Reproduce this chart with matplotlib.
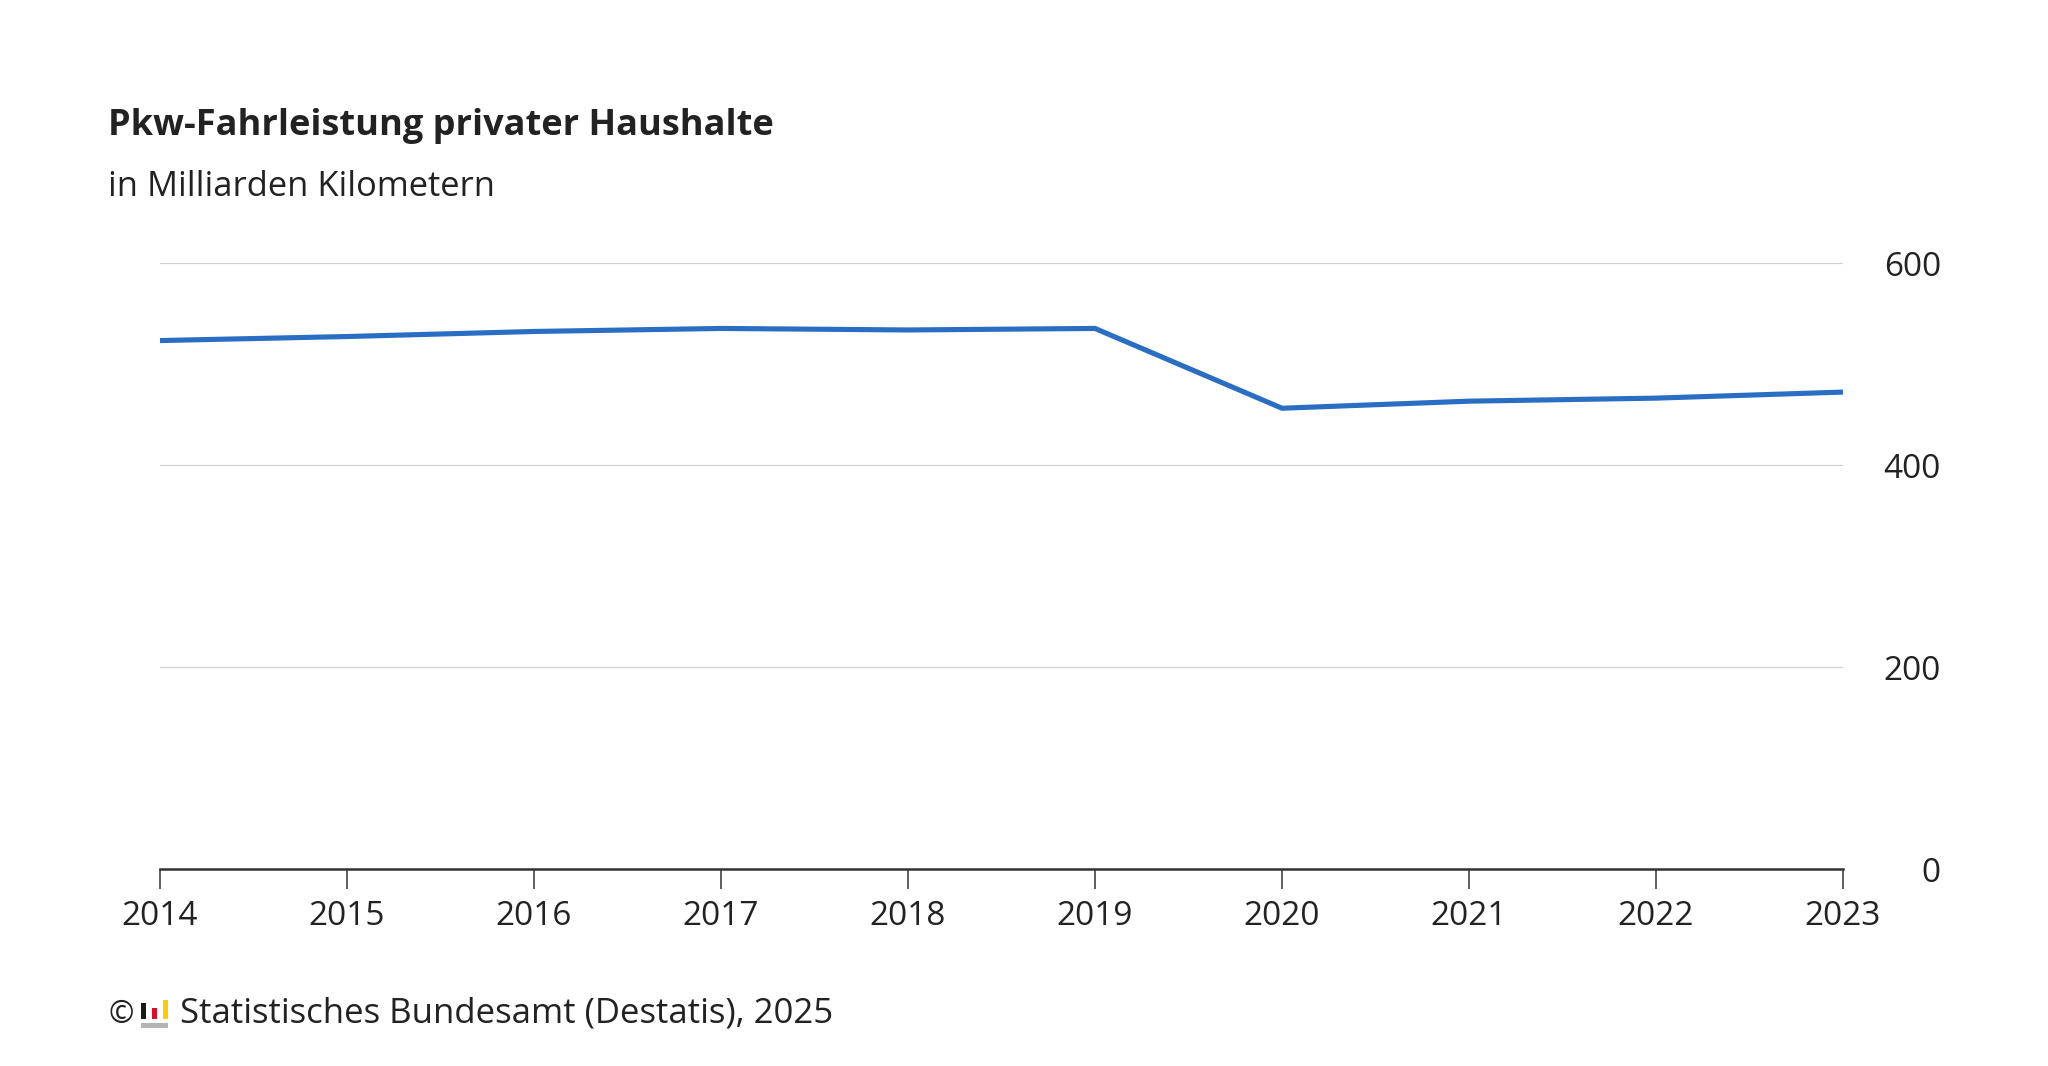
import matplotlib
matplotlib.use("Agg")
import matplotlib.pyplot as plt
from matplotlib.patches import Rectangle

years = [2014, 2015, 2016, 2017, 2018, 2019, 2020, 2021, 2022, 2023]
fahrleistung = [523.5, 527.5, 532.5, 535.5, 534, 535.5, 456.5, 463.5, 466.5, 472.5]
y_ticks = [0, 200, 400, 600]
y_tick_labels = ["0", "200", "400", "600"]

title = "Pkw-Fahrleistung privater Haushalte"
subtitle = "in Milliarden Kilometern"
source = "Statistisches Bundesamt (Destatis), 2025"

W, H = 2048, 1066
DPI = 100
plt.rcParams['font.family'] = ['Open Sans', 'DejaVu Sans']
TXT = '#222222'

fig = plt.figure(figsize=(W / DPI, H / DPI), dpi=DPI, facecolor='white')

left_px, right_px = 160, 1843
top_px, bottom_px = 263.3, 869.3
ax = fig.add_axes([left_px / W, 1 - bottom_px / H,
                   (right_px - left_px) / W, (bottom_px - top_px) / H])

ax.plot(years, fahrleistung, color='#2a6ec3', lw=3.7, solid_capstyle='butt',
        solid_joinstyle='miter', clip_on=False, zorder=3)

ax.set_xlim(years[0], years[-1])
ax.set_ylim(0, 600)

ax.set_yticks(y_ticks)
ax.set_yticklabels(y_tick_labels)
ax.yaxis.tick_right()
ax.tick_params(axis='y', length=0, pad=70.5, labelsize=24, labelcolor=TXT)
for lab in ax.get_yticklabels():
    lab.set_horizontalalignment('right')
ax.yaxis.grid(True, color='#d0d0d0', lw=0.9)
ax.set_axisbelow(True)

ax.set_xticks(years)
ax.set_xticklabels([str(y) for y in years])
ax.tick_params(axis='x', length=14.4, width=1.1, color='#333333', pad=7.5,
               labelsize=24, labelcolor=TXT, direction='out')

for s in ['top', 'left', 'right']:
    ax.spines[s].set_visible(False)
ax.spines['bottom'].set_color('#333333')
ax.spines['bottom'].set_linewidth(1.8)
ax.spines['bottom'].set_zorder(4)

fig.text(108 / W, 1 - 135 / H, title, fontsize=26, fontweight='bold',
         color=TXT, va='baseline', ha='left')
fig.text(108 / W, 1 - 196 / H, subtitle, fontsize=24.8, color=TXT,
         va='baseline', ha='left')

# footer: copyright sign, logo, source text
fig.text(108 / W, 1 - 1023 / H, "©", fontsize=22, color=TXT,
         va='baseline', ha='left')

def px_rect(x0, y0, x1, y1, color):
    fig.patches.append(Rectangle((x0 / W, 1 - y1 / H), (x1 - x0) / W,
                                 (y1 - y0) / H, transform=fig.transFigure,
                                 facecolor=color, edgecolor='none'))

dy = 2
px_rect(141, 1001 + dy, 145.5, 1017.3 + dy, '#1a1a1a')
px_rect(152.3, 1006 + dy, 156.8, 1017.3 + dy, '#d8102c')
px_rect(163.3, 998 + dy, 168, 1017.3 + dy, '#ffcc00')
px_rect(141, 1020.7 + dy, 168, 1025.5 + dy, '#b4b4b4')

fig.text(180 / W, 1 - 1023 / H, source, fontsize=25, color=TXT,
         va='baseline', ha='left')

fig.savefig('out.png', dpi=DPI, facecolor='white')
